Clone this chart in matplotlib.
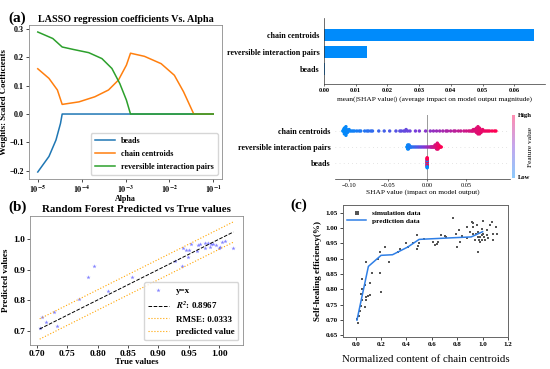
import numpy as np
import matplotlib
matplotlib.use('Agg')
import matplotlib.pyplot as plt
from matplotlib.colors import LinearSegmentedColormap
from matplotlib.ticker import FuncFormatter

plt.rcParams['font.family'] = ['Liberation Serif', 'DejaVu Serif']
plt.rcParams['mathtext.fontset'] = 'stix'

# ---- (a) LASSO path data ----
alpha_beads = [1e-5, 1.8e-5, 2.6e-5, 3.3e-5, 3.6e-5, 1e-1]
coef_beads = [-0.205, -0.15, -0.092, -0.033, 0.0, 0.0]
alpha_chain = [1e-5, 1.8e-5, 2.8e-5, 3.6e-5, 8.7e-5, 2.0e-4, 4.1e-4, 6.9e-4, 1.05e-3,
               1.3e-3, 2.7e-3, 6.5e-3, 1.3e-2, 2.1e-2, 3.6e-2, 1e-1]
coef_chain = [0.16, 0.126, 0.085, 0.034, 0.043, 0.061, 0.085, 0.12, 0.173,
              0.215, 0.204, 0.178, 0.137, 0.079, 0.0, 0.0]
alpha_rev = [1e-5, 2.2e-5, 3.6e-5, 6.6e-5, 1.45e-4, 2.9e-4, 4.9e-4, 7.4e-4, 1.05e-3, 1.3e-3, 1e-1]
coef_rev = [0.29, 0.267, 0.237, 0.228, 0.217, 0.196, 0.161, 0.108, 0.049, 0.0, 0.0]

# ---- SHAP data ----
features = ['beads', 'reversible interaction pairs', 'chain centroids']
shap_mean = [0.0002, 0.0137, 0.0663]

shap_chain = [-0.108, -0.107, -0.107, -0.106, -0.106, -0.106, -0.105, -0.105, -0.105, -0.105,
              -0.104, -0.104, -0.104, -0.103, -0.103, -0.102, -0.101, -0.100, -0.099, -0.097,
              -0.095, -0.093, -0.090, -0.087, -0.085, -0.080, -0.077, -0.075, -0.072, -0.070,
              -0.062, -0.055, -0.048, -0.040, -0.035, -0.033, -0.030, -0.028, -0.027, -0.025,
              -0.022, -0.015, -0.010, -0.002, 0.004, 0.008, 0.012, 0.016, 0.020, 0.024,
              0.026, 0.030, 0.034, 0.036, 0.040, 0.043, 0.047, 0.050, 0.053, 0.055,
              0.057, 0.058, 0.059, 0.060, 0.061, 0.062, 0.062, 0.063, 0.063, 0.064,
              0.064, 0.064, 0.065, 0.065, 0.065, 0.066, 0.066, 0.066, 0.067, 0.067,
              0.068, 0.068, 0.069, 0.070, 0.071, 0.072, 0.074, 0.076, 0.078, 0.080,
              0.083, 0.086, 0.088]
shap_rev = [-0.026, -0.025, -0.025, -0.025, -0.024, -0.024, -0.024, -0.023, -0.023, -0.022,
            -0.021, -0.020, -0.018, -0.016, -0.014, -0.012, -0.010, -0.008, -0.006, -0.004,
            -0.002, 0.000, 0.002, 0.004, 0.005, 0.006, 0.007, 0.008, 0.009, 0.010,
            0.010, 0.011, 0.011, 0.012, 0.012, 0.012, 0.013, 0.013, 0.013, 0.013,
            0.014, 0.014, 0.014, 0.015, 0.015, 0.016, 0.017, 0.018]
shap_beads = [0.0] * 20
feat_beads = [1, 0, 1, 1, 0, 1, 0, 1, 1, 0, 1, 0, 1, 1, 0, 1, 0, 1, 0, 1]

# ---- (b) Random forest ----
true_vals = [0.705, 0.708, 0.716, 0.728, 0.733, 0.770, 0.784, 0.794, 0.818, 0.857,
             0.927, 0.938, 0.940, 0.945, 0.948, 0.950, 0.954, 0.963, 0.965, 0.969,
             0.976, 0.977, 0.982, 0.984, 0.986, 0.990, 0.995, 0.999, 1.001, 1.005,
             1.010, 1.023]
pred_vals = [0.707, 0.743, 0.728, 0.762, 0.716, 0.803, 0.874, 0.912, 0.830, 0.877,
             0.927, 0.910, 0.972, 0.964, 0.942, 0.963, 0.983, 0.962, 0.980, 0.983,
             0.988, 0.970, 0.986, 0.973, 0.983, 0.984, 0.980, 0.970, 0.973, 0.989,
             0.995, 0.972]
r2 = 0.8967
rmse = 0.0333

# ---- (c) simulation vs prediction ----
sim_x = [0.018, 0.010, 0.027, 0.032, 0.040, 0.047, 0.045, 0.053, 0.071, 0.079,
         0.084, 0.071, 0.050, 0.097, 0.110, 0.116, 0.084, 0.132, 0.203, 0.195,
         0.176, 0.189, 0.229, 0.261, 0.334, 0.347, 0.400, 0.413, 0.453, 0.484,
         0.492, 0.484, 0.500, 0.537, 0.610, 0.624, 0.637, 0.650, 0.676, 0.702,
         0.710, 0.763, 0.790, 0.795, 0.816, 0.821, 0.834, 0.874, 0.874, 0.900,
         0.913, 0.926, 0.926, 0.939, 0.952, 0.966, 0.966, 0.979, 0.979, 0.992,
         1.005, 1.005, 1.018, 1.031, 1.045, 1.058, 1.071, 1.079, 1.084, 1.105,
         1.110, 0.926, 0.947, 0.992, 0.966, 1.013, 1.031, 0.999, 0.971]
sim_y = [0.690, 0.703, 0.714, 0.730, 0.747, 0.764, 0.786, 0.802, 0.744, 0.764,
         0.775, 0.816, 0.833, 0.780, 0.782, 0.820, 0.889, 0.853, 0.790, 0.853,
         0.900, 0.922, 0.938, 0.889, 0.922, 0.933, 0.950, 0.938, 0.952, 0.977,
         0.941, 0.933, 0.950, 0.963, 0.955, 0.944, 0.948, 0.955, 0.977, 0.973,
         0.971, 1.032, 0.982, 0.938, 0.993, 0.955, 0.973, 1.004, 0.969, 0.987,
         1.020, 1.004, 0.982, 0.960, 1.009, 0.921, 0.987, 0.971, 0.955, 0.998,
         1.023, 0.982, 0.960, 0.993, 0.966, 1.009, 1.020, 0.960, 0.982, 1.002,
         0.979, 1.015, 0.982, 0.976, 0.971, 0.971, 0.976, 0.960, 0.960]
pred_x = [0.01, 0.10, 0.20, 0.29, 0.41, 0.50, 0.75, 0.91, 1.00]
pred_y = [0.700, 0.875, 0.911, 0.913, 0.938, 0.963, 0.968, 0.971, 0.988]

W, H = 550, 369
fig = plt.figure(figsize=(W / 100, H / 100), dpi=100)


def box(l, t, r, b):
    return [l / W, 1 - b / H, (r - l) / W, (b - t) / H]


bold = dict(fontweight='bold')
gray_spine = '#8c8c8c'

# ================= (a) =================
ax = fig.add_axes(box(29, 25, 222, 179))
ax.plot(alpha_beads, coef_beads, color='#1f77b4', lw=1.1, label='beads')
ax.plot(alpha_chain, coef_chain, color='#ff7f0e', lw=1.1, label='chain centroids')
ax.plot(alpha_rev, coef_rev, color='#2ca02c', lw=1.1, label='reversible interaction pairs')
ax.set_xscale('log')
ax.minorticks_off()
ax.xaxis.set_major_formatter(FuncFormatter(lambda v, p: r'$\mathbf{10^{%d}}$' % round(np.log10(v))))
ax.set_yticks([-0.2, -0.1, 0.0, 0.1, 0.2, 0.3])
ax.tick_params(labelsize=5.8, length=2, width=0.5, pad=1.5)
for t in ax.get_yticklabels():
    t.set_fontweight('bold')
ax.set_title('LASSO regression coefficients Vs. Alpha', fontsize=7.3, pad=2, **bold)
ax.set_xlabel('Alpha', fontsize=5.8, labelpad=0, **bold)
ax.set_ylabel('Weights: Scaled Coefficients', fontsize=6.3, labelpad=1, **bold)
for s in ax.spines.values():
    s.set_color(gray_spine)
    s.set_linewidth(0.6)
ax.legend(loc='lower right', prop=dict(size=5.8, weight='bold'), handlelength=2.5,
          borderpad=0.5, labelspacing=0.6)
fig.text(8 / W, 1 - 18 / H, '(a)', fontsize=11, va='center', **bold)

# ================= SHAP bar =================
axs = fig.add_axes(box(324, 18, 545, 84))
ypos = np.arange(len(features))
axs.barh(ypos, shap_mean, 0.7, color='#008bfb')
axs.set_yticks(ypos)
axs.set_yticklabels(features, fontsize=5.8, **bold)
axs.set_ylim(-0.88, 3.0)
axs.set_xlim(0, 0.0697)
axs.spines['top'].set_visible(False)
axs.spines['right'].set_visible(False)
for s in ['left', 'bottom']:
    axs.spines[s].set_color('#333333')
    axs.spines[s].set_linewidth(0.5)
axs.tick_params(axis='y', length=0, pad=3)
axs.tick_params(axis='x', labelsize=4.6, length=1.5, width=0.4, pad=1.5)
for t in axs.get_xticklabels():
    t.set_fontweight('bold')
axs.set_xlabel('mean(|SHAP value|) (average impact on model output magnitude)', fontsize=5.3, labelpad=2)

# ================= SHAP beeswarm =================
red_blue = LinearSegmentedColormap.from_list('red_blue', ['#008bfb', '#7c3ad8', '#ff0052'])


def swarm_offsets(vals, row_height=0.4, nbins=100):
    vals = np.asarray(vals, dtype=float)
    quant = np.round(nbins * (vals - vals.min()) / (vals.max() - vals.min() + 1e-8))
    inds = np.argsort(quant, kind='stable')
    layer = 0
    last = -1
    ys = np.zeros(len(vals))
    for i in inds:
        if quant[i] != last:
            layer = 0
        ys[i] = np.ceil(layer / 2) * ((layer % 2) * 2 - 1)
        layer += 1
        last = quant[i]
    ys *= 0.9 * (row_height / np.max(ys + 1))
    return ys


axw = fig.add_axes(box(335, 115, 510, 179))
rows = [(shap_beads, np.asarray(feat_beads, float)),
        (shap_rev, None),
        (shap_chain, None)]
for pos, (vals, fv) in enumerate(rows):
    axw.axhline(pos, color='#cccccc', lw=0.5, dashes=(1, 5), zorder=-1)
    vals = np.asarray(vals)
    if fv is None:
        fv = (vals - vals.min()) / (vals.max() - vals.min())
    ys = swarm_offsets(vals)
    axw.scatter(vals, pos + ys, c=fv, cmap=red_blue, vmin=0, vmax=1, s=6,
                linewidths=0, zorder=3)
axw.axvline(0, color='#999999', lw=0.7, zorder=-1)
axw.set_ylim(-1, 3)
axw.set_xlim(-0.118, 0.106)
axw.set_xticks([-0.10, -0.05, 0.00, 0.05])
axw.set_yticks([0, 1, 2])
axw.set_yticklabels(features, fontsize=5.8, **bold)
for s in ['top', 'right', 'left']:
    axw.spines[s].set_visible(False)
axw.spines['bottom'].set_color('#333333')
axw.spines['bottom'].set_linewidth(0.5)
axw.tick_params(axis='y', length=0, pad=3)
axw.tick_params(axis='x', labelsize=4.6, length=1.5, width=0.4, pad=1.5)
axw.set_xlabel('SHAP value (impact on model output)', fontsize=5.3, labelpad=1)

cax = fig.add_axes(box(512, 115, 515, 178))
cax.imshow(np.linspace(1, 0, 100).reshape(-1, 1), aspect='auto', cmap=red_blue, alpha=0.45)
cax.set_xticks([])
cax.set_yticks([])
for s in cax.spines.values():
    s.set_visible(False)
fig.text(518 / W, 1 - 116 / H, 'High', fontsize=4.8, va='center', **bold)
fig.text(518 / W, 1 - 178 / H, 'Low', fontsize=4.8, va='center', **bold)
fig.text(531 / W, 1 - 147 / H, 'Feature value', fontsize=5.3, rotation=90, va='center', ha='center')

# ================= (b) =================
axr = fig.add_axes(box(30, 216, 243, 345))
axr.scatter(true_vals, pred_vals, marker='*', color='#3333ff', alpha=0.6, s=10,
            linewidths=0, label='y=x')
lo, hi = min(true_vals), max(true_vals)
axr.plot([lo, hi], [lo, hi], '--', color='black', lw=0.7, label=r'$\mathbfit{R^2}$: %.4f' % r2)
axr.plot([lo, hi], [lo + rmse, hi + rmse], ':', color='#ffa500', lw=0.8, label='RMSE: %.4f' % rmse)
axr.plot([lo, hi], [lo - rmse, hi - rmse], ':', color='#ffa500', lw=0.8, label='predicted value')
axr.set_xticks([0.70, 0.75, 0.80, 0.85, 0.90, 0.95, 1.00])
axr.set_yticks([0.7, 0.8, 0.9, 1.0])
axr.tick_params(labelsize=6.8, length=2, width=0.5, pad=1.5)
for t in axr.get_xticklabels() + axr.get_yticklabels():
    t.set_fontweight('bold')
axr.set_title('Random Forest Predicted vs True values', fontsize=7.8, pad=3, **bold)
axr.set_xlabel('True values', fontsize=6.3, labelpad=0, **bold)
axr.set_ylabel('Predicted values', fontsize=6.6, labelpad=2, **bold)
for s in axr.spines.values():
    s.set_color(gray_spine)
    s.set_linewidth(0.6)
axr.legend(loc='lower right', prop=dict(size=6.5, weight='bold'), handlelength=2.3,
           borderpad=0.45, labelspacing=0.5)
fig.text(8 / W, 1 - 207 / H, '(b)', fontsize=11, va='center', **bold)

# ================= (c) =================
axc = fig.add_axes(box(343, 205, 508, 337))
axc.scatter(sim_x, sim_y, marker='s', color='#555555', s=4, linewidths=0, label='simulation data')
axc.plot(pred_x, pred_y, color='#2f7fe6', lw=1.1, label='prediction data')
axc.set_xlim(-0.1, 1.2)
axc.set_ylim(0.645, 1.075)
axc.set_xticks(np.arange(0, 1.21, 0.2))
axc.set_yticks(np.arange(0.65, 1.051, 0.05))
axc.tick_params(labelsize=5, length=2, width=0.5, pad=1.5)
for t in axc.get_xticklabels() + axc.get_yticklabels():
    t.set_fontweight('bold')
for s in axc.spines.values():
    s.set_color('#666666')
    s.set_linewidth(0.7)
axc.set_xlabel('Normalized content of chain centroids', fontsize=7.8, labelpad=6)
axc.set_ylabel('Self-healing efficiency(%)', fontsize=6.6, labelpad=3, **bold)
axc.legend(loc='upper left', prop=dict(size=5.3, weight='bold'), frameon=False,
           handlelength=2.5, borderpad=0.1, labelspacing=0.3, markerscale=1.2)
fig.text(290 / W, 1 - 205 / H, '(c)', fontsize=11, va='center', **bold)

fig.savefig('out.png', dpi=100)
